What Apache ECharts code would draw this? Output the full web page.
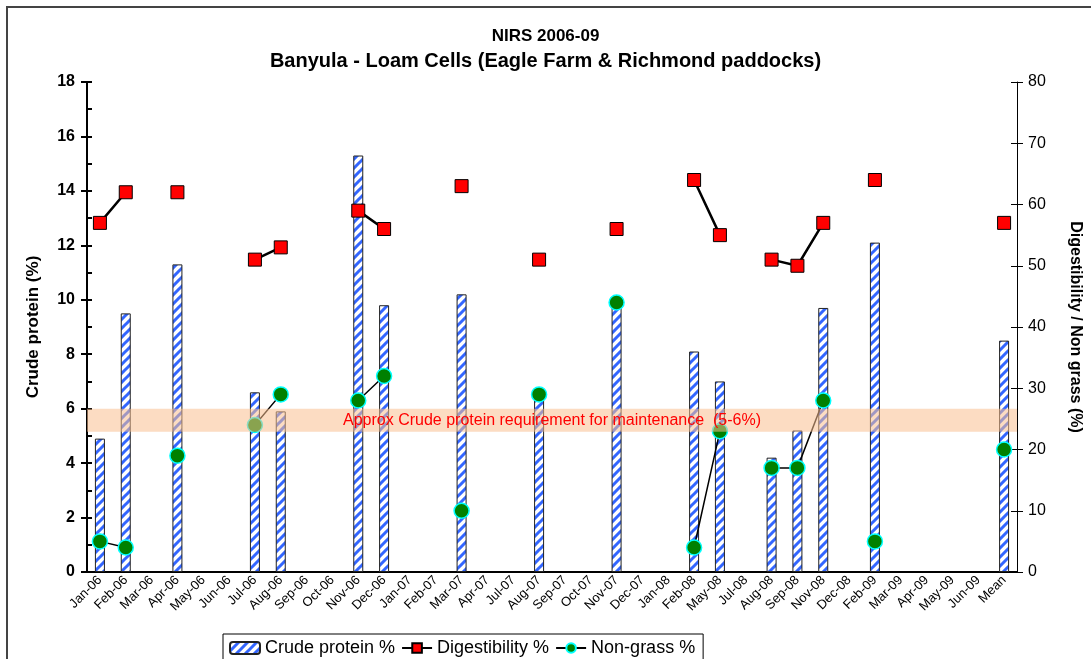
<!DOCTYPE html>
<html>
<head>
<meta charset="utf-8">
<title>NIRS 2006-09</title>
<script src="https://cdn.jsdelivr.net/npm/echarts/dist/echarts.min.js"></script>
<style>
  html, body { margin: 0; padding: 0; background: #fff; }
  #chart { width: 1091px; height: 659px; }
</style>
</head>
<body>
<div id="chart"></div>
<script>
var months = ['Jan-06', 'Feb-06', 'Mar-06', 'Apr-06', 'May-06', 'Jun-06', 'Jul-06', 'Aug-06', 'Sep-06',
  'Oct-06', 'Nov-06', 'Dec-06', 'Jan-07', 'Feb-07', 'Mar-07', 'Apr-07', 'Jul-07', 'Aug-07', 'Sep-07',
  'Oct-07', 'Nov-07', 'Dec-07', 'Jan-08', 'Feb-08', 'May-08', 'Jul-08', 'Aug-08', 'Sep-08', 'Nov-08',
  'Dec-08', 'Feb-09', 'Mar-09', 'Apr-09', 'May-09', 'Jun-09', 'Mean'];

var crudeProtein = [4.9, 9.5, null, 11.3, null, null, 6.6, 5.9, null, null, 15.3, 9.8, null, null, 10.2, null,
  null, 6.5, null, null, 9.9, null, null, 8.1, 7.0, null, 4.2, 5.2, 9.7, null, 12.1, null, null, null, null, 8.5];

var digestibility = [57, 62, null, 62, null, null, 51, 53, null, null, 59, 56, null, null, 63, null,
  null, 51, null, null, 56, null, null, 64, 55, null, 51, 50, 57, null, 64, null, null, null, null, 57];

var nonGrass = [5, 4, null, 19, null, null, 24, 29, null, null, 28, 32, null, null, 10, null,
  null, 29, null, null, 44, null, null, 4, 23, null, 17, 17, 28, null, 5, null, null, null, null, 20];

// band for maintenance requirement (left axis units)
var bandRange = [5.15, 6.0];

// striped fill for the bars
function stripes() {
  var c = document.createElement('canvas');
  var s = 9;
  c.width = s;
  c.height = s;
  var ctx = c.getContext('2d');
  ctx.fillStyle = '#ffffff';
  ctx.fillRect(0, 0, s, s);
  ctx.strokeStyle = '#3366ff';
  ctx.lineWidth = 3;
  ctx.beginPath();
  ctx.moveTo(-1, s + 1); ctx.lineTo(s + 1, -1);
  ctx.moveTo(-s / 2 - 1, s / 2 + 1); ctx.lineTo(s / 2 + 1, -s / 2 - 1);
  ctx.moveTo(s / 2 - 1, s * 1.5 + 1); ctx.lineTo(s * 1.5 + 1, s / 2 - 1);
  ctx.stroke();
  return c;
}

var font = 'Arial, "Liberation Sans", sans-serif';
var myChart = echarts.init(document.getElementById('chart'));

var option = {
  animation: false,
  textStyle: { fontFamily: font },
  title: [{
    text: 'NIRS 2006-09',
    left: 'center',
    top: 23,
    textStyle: { fontSize: 17, fontWeight: 'bold', color: '#000', fontFamily: font }
  }, {
    text: 'Banyula - Loam Cells (Eagle Farm & Richmond paddocks)',
    left: 'center',
    top: 46,
    textStyle: { fontSize: 20, fontWeight: 'bold', color: '#000', fontFamily: font }
  }],
  graphic: [{
    type: 'rect',
    shape: { x: 7, y: 7, width: 1200, height: 800 },
    style: { fill: 'none', stroke: '#444', lineWidth: 2 },
    silent: true
  }],
  legend: {
    left: 223,
    top: 634,
    padding: [5, 8, 8, 6],
    borderColor: '#000',
    borderWidth: 1,
    itemWidth: 30,
    itemHeight: 12,
    itemGap: 6,
    textStyle: { fontSize: 18, color: '#000', fontFamily: font },
    data: ['Crude protein %', 'Digestibility %', 'Non-grass %']
  },
  grid: { left: 87, right: 70, top: 82, bottom: 87 },
  xAxis: {
    type: 'category',
    data: months,
    axisLine: { lineStyle: { color: '#000', width: 2 } },
    axisTick: { interval: 0, length: 6, lineStyle: { color: '#000', width: 2 } },
    axisLabel: { interval: 0, rotate: 45, fontSize: 13, color: '#000', margin: 6 }
  },
  yAxis: [{
    type: 'value',
    min: 0, max: 18, interval: 2,
    name: 'Crude protein (%)',
    nameLocation: 'middle',
    nameGap: 45,
    nameTextStyle: { fontSize: 17, fontWeight: 'bold', color: '#000' },
    axisLine: { show: true, lineStyle: { color: '#000', width: 2 } },
    axisTick: { show: true, length: 6, lineStyle: { color: '#000', width: 2 } },
    axisLabel: { fontSize: 16, fontWeight: 'bold', color: '#000', margin: 12 },
    splitLine: { show: false }
  }, {
    type: 'value',
    position: 'right',
    min: 0, max: 80, interval: 10,
    name: 'Digestibility / Non grass (%)',
    nameLocation: 'middle',
    nameGap: 50,
    nameRotate: -90,
    nameTextStyle: { fontSize: 16, fontWeight: 'bold', color: '#000' },
    axisLine: { show: true, lineStyle: { color: '#000', width: 1 } },
    axisTick: { show: true, length: 6, lineStyle: { color: '#000' } },
    axisLabel: { fontSize: 16, color: '#000', margin: 11 },
    splitLine: { show: false }
  }, {
    // inside minor ticks, left
    type: 'value',
    position: 'left',
    min: 0, max: 18, interval: 1,
    axisLine: { show: false },
    axisTick: { show: true, inside: true, length: 5, lineStyle: { color: '#000', width: 2 } },
    axisLabel: { show: false },
    splitLine: { show: false }
  }, {
    // inside ticks, right
    type: 'value',
    position: 'right',
    min: 0, max: 80, interval: 10,
    axisLine: { show: false },
    axisTick: { show: true, inside: true, length: 6, lineStyle: { color: '#000' } },
    axisLabel: { show: false },
    splitLine: { show: false }
  }],
  series: [{
    name: 'Crude protein %',
    type: 'bar',
    yAxisIndex: 0,
    barWidth: 10,
    data: crudeProtein,
    itemStyle: {
      color: { image: stripes(), repeat: 'repeat' },
      borderColor: '#222',
      borderWidth: 1
    },
    z: 2
  }, {
    name: 'Digestibility %',
    type: 'line',
    yAxisIndex: 1,
    data: digestibility,
    connectNulls: false,
    symbol: 'rect',
    symbolSize: 13,
    lineStyle: { color: '#000', width: 2.5 },
    itemStyle: { color: '#ff0000', borderColor: '#000', borderWidth: 1 },
    z: 3
  }, {
    name: 'Non-grass %',
    type: 'line',
    yAxisIndex: 1,
    data: nonGrass,
    connectNulls: false,
    symbol: 'circle',
    symbolSize: 15,
    lineStyle: { color: '#000', width: 1.5 },
    itemStyle: { color: '#008000', borderColor: '#00ffff', borderWidth: 1.5 },
    z: 4
  }, {
    name: 'band',
    type: 'line',
    yAxisIndex: 0,
    data: [],
    z: 50,
    zlevel: 1,
    markArea: {
      silent: true,
      z: 50,
      itemStyle: { color: 'rgba(250,191,143,0.55)' },
      label: {
        show: true,
        position: 'inside',
        color: '#ff0000',
        fontSize: 16,
        formatter: 'Approx Crude protein requirement for maintenance  (5-6%)'
      },
      data: [[{ yAxis: bandRange[0] }, { yAxis: bandRange[1] }]]
    }
  }]
};

myChart.setOption(option);
</script>
</body>
</html>
